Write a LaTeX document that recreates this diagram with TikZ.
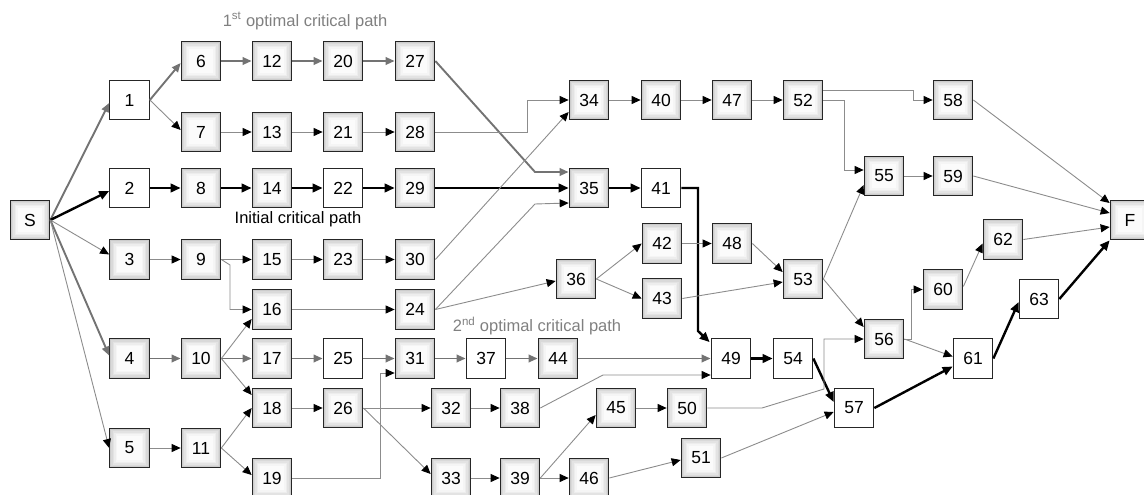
\documentclass[tikz,border=0pt]{standalone}
\usepackage{fontspec}
\setmainfont{Liberation Sans}
\usetikzlibrary{arrows.meta}
\begin{document}
\begin{tikzpicture}[x=1pt,y=-1pt,
  box/.style={draw=black!85,line width=1.2pt,minimum width=39.5pt,minimum height=39.5pt,inner sep=0pt,font=\fontsize{17.5}{19}\selectfont},
  sbox/.style={box,path picture={\foreach \d/\c in {0/20,1.5/15,3/11,4.5/7,6/4,7.5/1.5}{\fill[black!\c!white] ([shift={(\d pt,\d pt)}]path picture bounding box.south west) rectangle ([shift={(-\d pt,-\d pt)}]path picture bounding box.north east);}}},
  wbox/.style={box,fill=white},
  thn/.style={draw=black!45,line width=0.9pt,-{Triangle[length=9pt,width=8pt,color=black]}},
  opt/.style={draw=black!55,line width=1.9pt,-{Triangle[length=9pt,width=7.5pt,color=black!55]}},
  crt/.style={draw=black,line width=2.4pt,-{Triangle[length=10pt,width=8.5pt]}},
  lbl/.style={font=\fontsize{16.5}{18}\selectfont}
]
\useasboundingbox (0,0) rectangle (1144,495);
\clip (0,0) rectangle (1144,495);

% nodes
\node[sbox] (S) at (30,220) {S};
\node[wbox] (n1) at (129.5,100) {1};
\node[wbox] (n2) at (129.5,188) {2};
\node[sbox] (n3) at (129.5,259.5) {3};
\node[sbox] (n4) at (129.5,358.5) {4};
\node[sbox] (n5) at (129.5,448) {5};
\node[sbox] (n6) at (201,61) {6};
\node[sbox] (n7) at (201,132) {7};
\node[sbox] (n8) at (201,188) {8};
\node[sbox] (n9) at (201,259.5) {9};
\node[sbox] (n10) at (201,358.5) {10};
\node[sbox] (n11) at (201,448) {11};
\node[sbox] (n12) at (272,61) {12};
\node[sbox] (n13) at (272,132) {13};
\node[sbox] (n14) at (272,188) {14};
\node[sbox] (n15) at (272,259.5) {15};
\node[sbox] (n16) at (272,309.5) {16};
\node[sbox] (n17) at (272,358.5) {17};
\node[sbox] (n18) at (272,408) {18};
\node[sbox] (n19) at (272,478) {19};
\node[sbox] (n20) at (343,61) {20};
\node[sbox] (n21) at (343,132) {21};
\node[wbox] (n22) at (343,188) {22};
\node[sbox] (n23) at (343,259.5) {23};
\node[wbox] (n25) at (343,358.5) {25};
\node[sbox] (n26) at (343,408) {26};
\node[sbox] (n27) at (415,61) {27};
\node[sbox] (n28) at (415,132) {28};
\node[sbox] (n29) at (415,188) {29};
\node[sbox] (n30) at (415,259.5) {30};
\node[sbox] (n24) at (415,309.5) {24};
\node[sbox] (n31) at (415,358.5) {31};
\node[sbox] (n32) at (451,408) {32};
\node[sbox] (n33) at (451,478) {33};
\node[wbox] (n37) at (486,358.5) {37};
\node[sbox] (n38) at (520,408) {38};
\node[sbox] (n39) at (520,478) {39};
\node[sbox] (n44) at (558,358.5) {44};
\node[sbox] (n36) at (576,279) {36};
\node[sbox] (n34) at (589,100) {34};
\node[sbox] (n35) at (589,188) {35};
\node[sbox] (n46) at (589,478) {46};
\node[sbox] (n45) at (616,408) {45};
\node[sbox] (n40) at (661,100) {40};
\node[wbox] (n41) at (661,188) {41};
\node[sbox] (n42) at (662,243.5) {42};
\node[sbox] (n43) at (662,298.5) {43};
\node[sbox] (n50) at (687,408) {50};
\node[sbox] (n51) at (701,458) {51};
\node[sbox] (n47) at (732,100) {47};
\node[sbox] (n48) at (732,243.5) {48};
\node[wbox] (n49) at (731,358.5) {49};
\node[sbox] (n52) at (803,100) {52};
\node[sbox] (n53) at (803,279) {53};
\node[wbox] (n54) at (793,358.5) {54};
\node[wbox] (n57) at (854,408) {57};
\node[sbox] (n55) at (884,176) {55};
\node[sbox] (n56) at (884,339) {56};
\node[sbox] (n58) at (953,100) {58};
\node[sbox] (n59) at (953,176) {59};
\node[sbox] (n60) at (943,289.5) {60};
\node[wbox] (n61) at (973,358.5) {61};
\node[sbox] (n62) at (1003,239.5) {62};
\node[wbox] (n63) at (1039,299) {63};
\node[sbox] (F) at (1130,220) {F};

% labels
\node[lbl,text=black!50] (t1) at (305,21) {1\textsuperscript{st} optimal critical path};
\node[lbl] (t0) at (298,219) {Initial critical path};
\node[lbl,text=black!50] (t2) at (537,326) {2\textsuperscript{nd} optimal critical path};

% from S
\draw[opt] (S.east) -- ([yshift=-3pt]n1.west);
\draw[crt] (S.east) -- ([yshift=-3pt]n2.west);
\draw[thn] (S.east) -- ([yshift=5pt]n3.west);
\draw[opt] (S.east) -- ([yshift=3pt]n4.west);
\draw[thn] (S.east) -- (n5.west);

% 1st optimal path
\draw[opt] (n1.east) -- ([yshift=-2pt]n6.west);
\draw[opt] (n6) -- (n12);
\draw[opt] (n12) -- (n20);
\draw[opt] (n20) -- (n27);
\draw[opt] (n27.east) -- (535,172) -- ([yshift=16pt]n35.west);

% initial critical path
\draw[crt] (n2) -- (n8);
\draw[crt] (n8) -- (n14);
\draw[crt] (n14) -- (n22);
\draw[crt] (n22) -- (n29);
\draw[crt] (n29) -- (n35);
\draw[crt] (n35) -- (n41);
\draw[crt] (n41.east) -- (698,188) -- (698,331) -- ([shift={(-1pt,-4pt)}]n49.north west);
\draw[crt] (n49) -- (n54);
\draw[crt] (n54.east) -- ([yshift=6pt]n57.west);
\draw[crt] (n57.east) -- ([yshift=-8pt]n61.west);
\draw[crt] (n61.east) -- ([yshift=-3pt]n63.west);
\draw[crt] (n63.east) -- (F.south west);

% 2nd optimal path
\draw[opt] (n4) -- (n10);
\draw[opt] (n10) -- (n17);
\draw[opt] (n17) -- (n25);
\draw[opt] (n25) -- (n31);
\draw[opt] (n31) -- (n37);
\draw[opt] (n37) -- (n44);
\draw[opt] (n44) -- (n49);

% thin connectors
\draw[thn] (n1.east) -- ([yshift=2pt]n7.west);
\draw[thn] (n7) -- (n13);
\draw[thn] (n13) -- (n21);
\draw[thn] (n21) -- (n28);
\draw[thn] (n28.east) -- (527,132) -- (527,100) -- (n34.west);
\draw[thn] (n3) -- (n9);
\draw[thn] (n9) -- (n15);
\draw[thn] (n15) -- (n23);
\draw[thn] (n23) -- (n30);
\draw[thn] (n9.east) -- (230,265) -- (230,309.5) -- (n16.west);
\draw[thn] (n10.east) -- ([yshift=-9.5pt]n16.west);
\draw[thn] (n10.east) -- ([yshift=13pt]n18.west);
\draw[thn] (n5) -- (n11);
\draw[thn] (n11.east) -- (n18.west);
\draw[thn] (n11.east) -- ([yshift=3pt]n19.west);
\draw[thn] (n16) -- (n24);
\draw[thn] (n18) -- (n26);
\draw[thn] (n19.east) -- (380,478) -- (380,373) -- ([yshift=-14.5pt]n31.west);
\draw[thn] (n26) -- (n32);
\draw[thn] (n26.east) -- ([yshift=4pt]n33.west);
\draw[thn] (n32) -- (n38);
\draw[thn] (n33) -- (n39);
\draw[thn] (n38.east) -- (603,375) -- ([yshift=-16.5pt]n49.west);
\draw[thn] (n39.east) -- ([yshift=-7pt]n45.west);
\draw[thn] (n39) -- (n46);
\draw[thn] (n45) -- (n50);
\draw[thn] (n46.east) -- ([yshift=-2pt]n51.west);
\draw[thn] (n30.east) -- ([yshift=-12pt]n34.west);
\draw[thn] (n24.east) -- (535,204) -- ([yshift=-15pt]n35.west);
\draw[thn] (n24.east) -- ([yshift=-2pt]n36.west);
\draw[thn] (n36.east) -- (n42.west);
\draw[thn] (n36.east) -- (n43.west);
\draw[thn] (n42) -- (n48);
\draw[thn] (n48.east) -- ([yshift=7pt]n53.west);
\draw[thn] (n43.east) -- ([yshift=-3pt]n53.west);
\draw[thn] (n34) -- (n40);
\draw[thn] (n40) -- (n47);
\draw[thn] (n47) -- (n52);
\draw[thn] (n52.east) -- (844,100) -- (844,170) -- ([yshift=6pt]n55.west);
\draw[thn] ([yshift=10pt]n52.east) -- (913,90) -- (913,100) -- (n58.west);
\draw[thn] (n53.east) -- ([yshift=-9pt]n55.west);
\draw[thn] (n53.east) -- ([yshift=12pt]n56.west);
\draw[thn] (n50.east) -- (762,408) -- (824,389) -- (824,339) -- (n56.west);
\draw[thn] (n51.east) -- ([yshift=-4pt]n57.west);
\draw[thn] (n55) -- (n59);
\draw[thn] (n56.east) -- (911,339) -- (911,289.5) -- (n60.west);
\draw[thn] (n56.east) -- ([yshift=2pt]n61.west);
\draw[thn] ([yshift=3pt]n60.east) -- ([yshift=-4pt]n62.west);
\draw[thn] (n58.east) -- ([yshift=17pt]F.west);
\draw[thn] (n59.east) -- ([yshift=7pt]F.west);
\draw[thn] (n62.east) -- ([yshift=-7pt]F.west);
\end{tikzpicture}
\end{document}
